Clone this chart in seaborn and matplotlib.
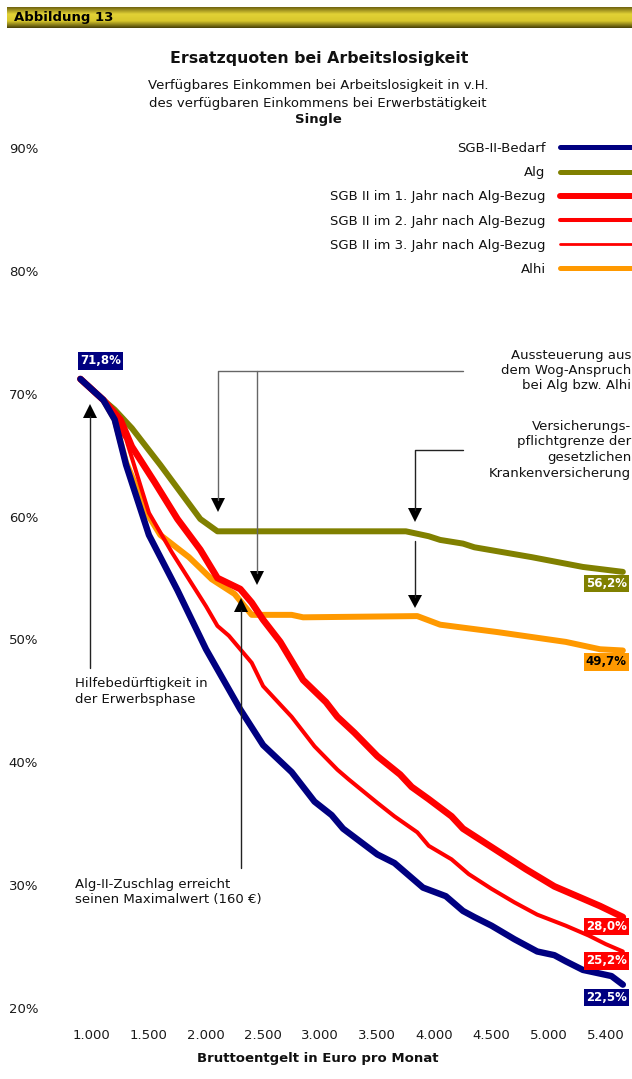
import numpy as np
import pandas as pd
import matplotlib.pyplot as plt
import seaborn as sns
from matplotlib.lines import Line2D
from matplotlib.patches import Polygon
from matplotlib.colors import LinearSegmentedColormap

sns.set_theme(style="white")
plt.rcParams["font.family"] = ["DejaVu Sans"]
plt.rcParams["text.color"] = "#111111"

# data (Euro / percent)
blue_x = [900, 1100, 1200, 1300, 1500, 1750, 2000, 2300, 2500, 2750, 2950, 3100, 3200, 3500, 3650,
          3800, 3900, 4100, 4250, 4350, 4500, 4700, 4900, 5050, 5150, 5300, 5550, 5650]
blue_y = [71.2, 69.5, 67.9, 64.2, 58.5, 54.0, 49.2, 44.3, 41.4, 39.2, 36.8, 35.7, 34.6, 32.5, 31.8,
          30.6, 29.8, 29.1, 27.9, 27.4, 26.7, 25.6, 24.6, 24.3, 23.8, 23.1, 22.6, 21.9]

olive_x = [900, 1100, 1200, 1350, 1600, 1950, 2100, 3750, 3950, 4050, 4250, 4350, 4850, 5300, 5650]
olive_y = [71.2, 69.5, 68.7, 67.2, 64.2, 59.8, 58.8, 58.8, 58.4, 58.1, 57.8, 57.5, 56.7, 55.9, 55.5]

red1_x = [900, 1100, 1250, 1350, 1550, 1750, 1950, 2100, 2300, 2400, 2500, 2650, 2850, 3050, 3150,
          3300, 3500, 3700, 3800, 3950, 4150, 4250, 4550, 4800, 5050, 5450, 5650]
red1_y = [71.2, 69.5, 67.9, 65.7, 62.8, 59.8, 57.3, 55.0, 54.1, 53.0, 51.6, 49.8, 46.7, 44.9, 43.7,
          42.4, 40.5, 39.0, 38.0, 37.0, 35.6, 34.6, 32.8, 31.3, 29.9, 28.3, 27.4]

red2_x = [900, 1100, 1300, 1500, 1700, 2000, 2100, 2200, 2300, 2400, 2500, 2750, 2950, 3150, 3250,
          3500, 3650, 3850, 3950, 4150, 4300, 4500, 4700, 4900, 5150, 5350, 5500, 5650]
red2_y = [71.2, 69.5, 66.3, 60.3, 57.1, 52.7, 51.1, 50.3, 49.2, 48.1, 46.2, 43.7, 41.3, 39.4, 38.6,
          36.7, 35.6, 34.3, 33.2, 32.1, 30.9, 29.7, 28.6, 27.6, 26.7, 25.9, 25.2, 24.6]

# 3rd year after Alg: no Zuschlag any more, the line lies under SGB-II-Bedarf
red3_x = blue_x
red3_y = blue_y

orange_x = [900, 1100, 1200, 1300, 1500, 1600, 1850, 2050, 2250, 2400, 2750, 2850, 3850, 4050, 4550,
            5150, 5450, 5650]
orange_y = [71.2, 69.5, 67.9, 64.4, 60.0, 58.5, 56.7, 54.9, 53.7, 52.0, 52.0, 51.8, 51.9, 51.2, 50.6,
            49.8, 49.2, 49.1]

x_ticks = [1000, 1500, 2000, 2500, 3000, 3500, 4000, 4500, 5000, 5500]
x_tick_labels = ["1.000", "1.500", "2.000", "2.500", "3.000", "3.500", "4.000", "4.500", "5.000", "5.400"]
y_ticks = [20, 30, 40, 50, 60, 70, 80, 90]

end_labels = {"olive": "56,2%", "orange": "49,7%", "red1": "28,0%", "red2": "25,2%", "blue": "22,5%"}
start_label = "71,8%"

NAVY, OLIVE, RED, ORANGE = "#000080", "#808000", "#ff0000", "#ff9900"

W, H = 632, 1079
fig = plt.figure(figsize=(W / 100, H / 100), dpi=100)


def fx(px):
    return px / W


def fy(py):
    return 1 - py / H


# header bar
hdr = fig.add_axes([fx(7), fy(28), fx(625), 21 / H])
cmap = LinearSegmentedColormap.from_list("hdr", ["#706410", "#e2d236", "#d8c72c", "#4a4208"])
hdr.imshow(np.linspace(0, 1, 50).reshape(-1, 1), aspect="auto", cmap=cmap, extent=[0, 1, 0, 1])
hdr.axis("off")
fig.text(fx(14), fy(17.5), "Abbildung 13", fontsize=9.5, fontweight="bold", va="center", ha="left",
         color="black")

# titles
fig.text(fx(319), fy(59), "Ersatzquoten bei Arbeitslosigkeit", fontsize=11.3, fontweight="bold",
         ha="center", va="center")
fig.text(fx(318), fy(86), "Verfügbares Einkommen bei Arbeitslosigkeit in v.H.", fontsize=9.5,
         ha="center", va="center")
fig.text(fx(318), fy(103), "des verfügbaren Einkommens bei Erwerbstätigkeit", fontsize=9.5,
         ha="center", va="center")
fig.text(fx(318), fy(119), "Single", fontsize=9.5, fontweight="bold", ha="center", va="center")

ax = fig.add_axes([fx(45), fy(1008), (W - 45) / W, 860 / H])

series = [
    ("SGB II im 3. Jahr nach Alg-Bezug", red3_x, red3_y, RED, 2.0),
    ("Alg", olive_x, olive_y, OLIVE, 4.3),
    ("Alhi", orange_x, orange_y, ORANGE, 4.3),
    ("SGB II im 2. Jahr nach Alg-Bezug", red2_x, red2_y, RED, 2.9),
    ("SGB II im 1. Jahr nach Alg-Bezug", red1_x, red1_y, RED, 4.8),
    ("SGB-II-Bedarf", blue_x, blue_y, NAVY, 4.6),
]
handles = {}
for name, xs, ys, col, lw in series:
    df = pd.DataFrame({"x": xs, "y": ys})
    sns.lineplot(data=df, x="x", y="y", ax=ax, color=col, linewidth=lw, sort=False,
                 estimator=None)
    ln = ax.lines[-1]
    ln.set_solid_capstyle("round")
    ln.set_solid_joinstyle("round")
    handles[name] = Line2D([], [], color=col, linewidth=lw)

ax.set_xlim(590, 5730)
ax.set_ylim(20, 90)
ax.set_xticks(x_ticks)
ax.set_xticklabels(x_tick_labels)
ax.set_yticks(y_ticks)
ax.set_yticklabels([f"{v}%" for v in y_ticks])
ax.tick_params(axis="both", length=0, labelsize=9.5, colors="#1a1a1a")
ax.tick_params(axis="y", pad=5)
ax.tick_params(axis="x", pad=15)
for s in ax.spines.values():
    s.set_visible(False)
ax.set_xlabel("Bruttoentgelt in Euro pro Monat", fontsize=9.5, fontweight="bold", color="#111111")
ax.xaxis.set_label_coords((318 - 45) / (W - 45), -(1052 - 1008) / 860)
ax.set_ylabel("")
ax.patch.set_alpha(0)

order = ["SGB-II-Bedarf", "Alg", "SGB II im 1. Jahr nach Alg-Bezug", "SGB II im 2. Jahr nach Alg-Bezug",
         "SGB II im 3. Jahr nach Alg-Bezug", "Alhi"]
leg_handles = [handles[k] for k in order]
leg_handles[0].set_linewidth(3.6)
leg_handles[1].set_linewidth(3.6)
leg_handles[5].set_linewidth(3.6)
leg_handles[2].set_linewidth(4.3)
ax.legend(leg_handles, order, loc="upper right", bbox_to_anchor=(fx(632), fy(142)),
          bbox_transform=fig.transFigure, frameon=False, markerfirst=False, fontsize=9.5,
          handlelength=5.45, handletextpad=1.1, labelspacing=0.85, borderpad=0, borderaxespad=0)

# value labels
def tag(x, y, text, col, dx, dy, tcol="white", ha="right", va="top"):
    ax.annotate(text, xy=(x, y), xytext=(dx * 0.72, dy * 0.72), textcoords="offset points",
                ha=ha, va=va, fontsize=8.5, fontweight="bold", color=tcol,
                bbox=dict(boxstyle="square,pad=0.18", fc=col, ec="none"))

tag(blue_x[0], blue_y[0], start_label, NAVY, 20, 18, ha="center", va="center")
tag(olive_x[-1], olive_y[-1], end_labels["olive"], OLIVE, 4, -5)
tag(orange_x[-1], orange_y[-1], end_labels["orange"], ORANGE, 4, -5, tcol="black")
tag(red1_x[-1], red1_y[-1], end_labels["red1"], RED, 4, -3)
tag(red2_x[-1], red2_y[-1], end_labels["red2"], RED, 4, -3)
tag(blue_x[-1], blue_y[-1], end_labels["blue"], NAVY, 4, -6)


# annotation arrows (figure pixels)
def seg(pts, col="#222222"):
    fig.add_artist(Line2D([fx(p[0]) for p in pts], [fy(p[1]) for p in pts], color=col, linewidth=1.0))


def head(x, base, apex, half=7):
    fig.add_artist(Polygon([(fx(x - half), fy(base)), (fx(x + half), fy(base)), (fx(x), fy(apex))],
                           closed=True, fc="black", ec="none"))


seg([(90, 668), (90, 416)])
head(90, 418, 404)
seg([(463, 371), (218, 371), (218, 500)], col="#666666")
head(218, 498, 512)
seg([(257, 371), (257, 573)], col="#666666")
head(257, 571, 585)
seg([(463, 450), (415, 450), (415, 510)])
head(415, 508, 522)
seg([(415, 541), (415, 597)])
head(415, 595, 608)
seg([(241, 868), (241, 610)])
head(241, 612, 598)

fig.text(fx(75), fy(677), "Hilfebedürftigkeit in\nder Erwerbsphase", fontsize=9.5, ha="left", va="top",
         linespacing=1.25)
fig.text(fx(75), fy(878), "Alg-II-Zuschlag erreicht\nseinen Maximalwert (160 €)", fontsize=9.5, ha="left",
         va="top", linespacing=1.25)
fig.text(fx(631), fy(349), "Aussteuerung aus\ndem Wog-Anspruch\nbei Alg bzw. Alhi", fontsize=9.5,
         ha="right", va="top", multialignment="right", linespacing=1.22)
fig.text(fx(631), fy(420), "Versicherungs-\npflichtgrenze der\ngesetzlichen\nKrankenversicherung", fontsize=9.5,
         ha="right", va="top", multialignment="right", linespacing=1.25)

fig.savefig("out.png", dpi=100)
